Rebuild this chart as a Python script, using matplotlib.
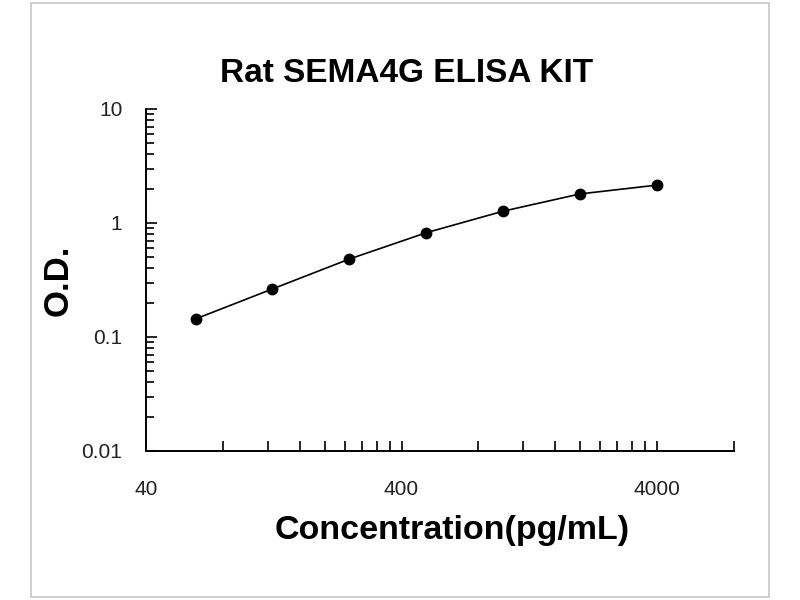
import matplotlib
matplotlib.use('Agg')
import matplotlib.pyplot as plt
from matplotlib.patches import Rectangle
from matplotlib.ticker import FixedLocator, NullFormatter

# Standard curve data
concentration = [62.5, 125, 250, 500, 1000, 2000, 4000]
od_values = [0.144, 0.264, 0.483, 0.822, 1.27, 1.80, 2.15]

x_major = [40, 400, 4000]
x_minor = [40 * k for k in range(2, 10)] + [400 * k for k in range(2, 10)] + [8000]
y_major = [0.01, 0.1, 1, 10]
y_minor = [d * k for d in [0.01, 0.1, 1] for k in range(2, 10)]

title = 'Rat SEMA4G ELISA KIT'
xlabel = 'Concentration(pg/mL)'
ylabel = 'O.D.'

plt.rcParams['font.family'] = ['Liberation Sans', 'DejaVu Sans']

fig = plt.figure(figsize=(8, 6), dpi=100)
fig.patch.set_facecolor('white')

# outer gray frame
fig.patches.append(Rectangle((31 / 800, 3 / 600), 738 / 800, 594 / 600,
                             transform=fig.transFigure, fill=False,
                             edgecolor='#c8c8c8', linewidth=1.2))

ax = fig.add_axes([146 / 800, 1 - 451 / 600, (734 - 146) / 800, (451 - 109) / 600])
ax.set_xscale('log')
ax.set_yscale('log')
ax.set_xlim(40, 8000)
ax.set_ylim(0.01, 10)

ax.plot(concentration, od_values, color='black', linewidth=1.2,
        marker='o', markersize=7.5, markerfacecolor='black', markeredgecolor='black')

for side in ['top', 'right']:
    ax.spines[side].set_visible(False)
for side in ['left', 'bottom']:
    ax.spines[side].set_linewidth(1.4)

ax.xaxis.set_major_locator(FixedLocator(x_major))
ax.xaxis.set_minor_locator(FixedLocator(x_minor))
ax.xaxis.set_minor_formatter(NullFormatter())
ax.set_xticklabels([str(v) for v in x_major])

ax.yaxis.set_major_locator(FixedLocator(y_major))
ax.yaxis.set_minor_locator(FixedLocator(y_minor))
ax.yaxis.set_minor_formatter(NullFormatter())
ax.set_yticklabels(['0.01', '0.1', '1', '10'])

ax.tick_params(axis='x', which='both', direction='in', length=7, width=1.2,
               labelsize=15, pad=21, colors='black', labelcolor='#222222')
ax.tick_params(axis='y', which='major', direction='in', length=8, width=1.2,
               labelsize=15, pad=17, labelcolor='#222222')
ax.tick_params(axis='y', which='minor', direction='in', length=6, width=1.2)

fig.text(407 / 800, 1 - 73 / 600, title, ha='center', va='center',
         fontsize=24, fontweight='bold')
fig.text(452 / 800, 1 - 531 / 600, xlabel, ha='center', va='center',
         fontsize=24.5, fontweight='bold')
fig.text(58 / 800, 1 - 280 / 600, ylabel, ha='center', va='center',
         fontsize=25, fontweight='bold', rotation=90)

fig.savefig('out.png', dpi=100, facecolor='white')
